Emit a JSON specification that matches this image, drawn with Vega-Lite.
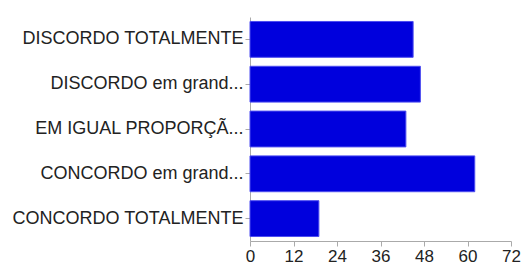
{
  "$schema": "https://vega.github.io/schema/vega-lite/v6.json",
  "width": 261,
  "height": 224,
  "autosize": "none",
  "padding": {"left": 250, "top": 17, "right": 11, "bottom": 24},
  "background": "white",
  "config": {"view": {"stroke": null}},
  "data": {"values": [
    {"label": "DISCORDO TOTALMENTE", "n": 45},
    {"label": "DISCORDO em grand...", "n": 47},
    {"label": "EM IGUAL PROPORÇÃ...", "n": 43},
    {"label": "CONCORDO em grand...", "n": 62},
    {"label": "CONCORDO TOTALMENTE", "n": 19}
  ]},
  "mark": {"type": "bar", "color": "#0000dd", "stroke": "#4d4df0", "strokeWidth": 1},
  "encoding": {
    "y": {"field": "label", "type": "nominal", "sort": null,
      "scale": {"paddingInner": 0.2, "paddingOuter": 0.1},
      "axis": {"title": null, "labelFont": "Liberation Sans", "labelFontSize": 18, "labelColor": "#222", "labelLimit": 300, "labelPadding": 2, "domainColor": "#aaa", "tickColor": "#aaa", "tickSize": 5}},
    "x": {"field": "n", "type": "quantitative",
      "scale": {"domain": [0, 72], "nice": false},
      "axis": {"title": null, "values": [0, 12, 24, 36, 48, 60, 72], "grid": false, "labelFont": "Liberation Sans", "labelFontSize": 17, "labelColor": "#222", "domainColor": "#aaa", "tickColor": "#aaa", "tickSize": 5, "labelPadding": 2, "labelFlush": false}}
  }
}
